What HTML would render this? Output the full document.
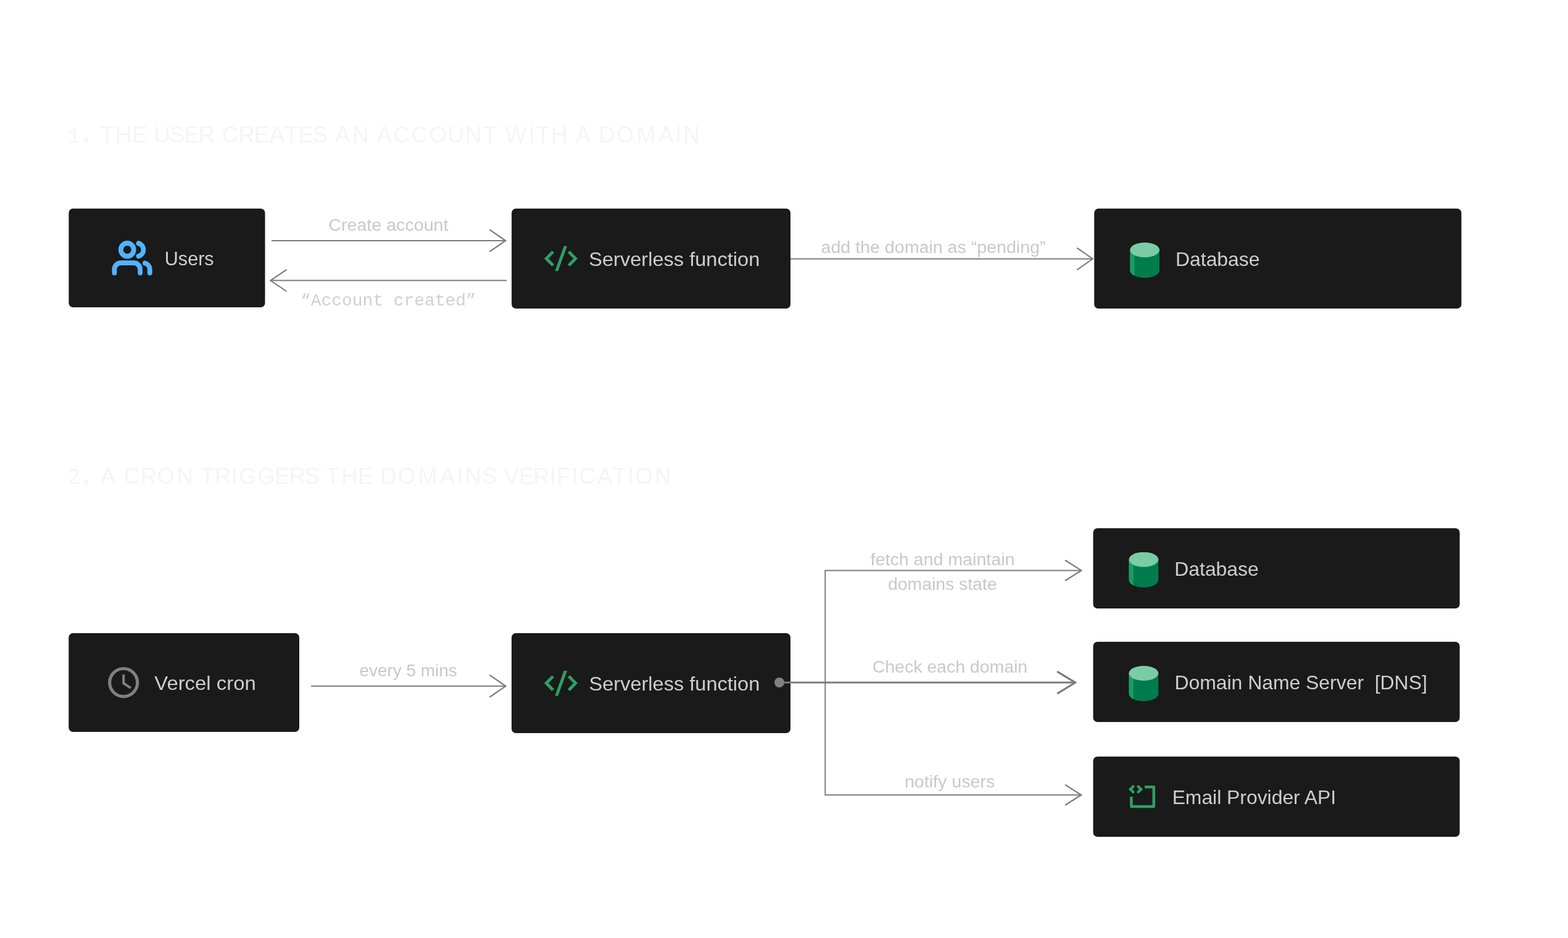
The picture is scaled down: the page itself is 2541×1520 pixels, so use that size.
<!DOCTYPE html>
<html lang="en">
<head>
<meta charset="utf-8">
<title>Domain verification flow</title>
<style>
  html, body { margin: 0; padding: 0; background: #ffffff; }
  html, body { width: 2541px; height: 1520px; }
  svg { display: block; will-change: transform; }
  text { white-space: pre; }
  .s { font-family: "Liberation Sans", sans-serif; }
  .h { font-family: "Liberation Sans", sans-serif; font-kerning: none; }
  .m { font-family: "Liberation Mono", monospace; }
</style>
</head>
<body>
<svg width="2541" height="1520" viewBox="0 0 2541 1520">
<rect x="0" y="0" width="2541" height="1520" fill="#ffffff"/>
<text class="h" x="109.18 132.04 145.10 162.32 186.70 213.91 236.70 249.16 274.99 298.46 321.51 345.90 359.48 386.56 411.51 436.83 461.22 483.81 506.79 530.10 542.83 570.70 596.60 610.63 637.28 666.23 695.50 725.46 753.80 783.12 806.70 818.42 856.44 868.67 893.05 918.50 932.73 959.00 970.23 998.80 1031.72 1066.88 1094.19 1107.55" y="231" fill="#f5f5f5" xml:space="preserve"><tspan class="m" font-size="35">1</tspan><tspan class="s" font-size="58">.</tspan><tspan class="s" font-size="36.8"> THE USER CREATES AN ACCOUNT WITH A DOMAIN</tspan></text>
<text class="h" x="109.92 132.04 145.10 163.03 189.50 200.68 227.71 254.55 286.20 311.90 325.37 347.96 374.79 387.04 417.09 445.41 468.41 493.34 517.00 528.52 553.00 580.06 602.90 616.28 645.00 677.82 712.88 740.24 753.30 781.09 804.70 816.38 841.01 863.96 890.69 902.29 926.04 938.53 967.83 992.07 1016.74 1029.50 1061.00" y="784" fill="#f5f5f5" xml:space="preserve"><tspan class="s" font-size="35">2</tspan><tspan class="s" font-size="58">.</tspan><tspan class="s" font-size="36.8"> A CRON TRIGGERS THE DOMAINS VERIFICATION</tspan></text>
<rect x="111.4" y="338" width="318.1" height="160" rx="7" ry="7" fill="#1a1a1a"/>
<g transform="translate(182.77 385.87) scale(2.61 2.68)" fill="none" stroke="#51b3ff" stroke-width="3" stroke-linecap="round" stroke-linejoin="round"><path d="M17 21v-2a4 4 0 0 0-4-4H5a4 4 0 0 0-4 4v2"/><circle cx="9" cy="7" r="4"/><path d="M23 21v-2a4 4 0 0 0-3-3.87"/><path d="M16 3.13a4 4 0 0 1 0 7.75"/></g>
<text class="s" x="266.75" y="430" font-size="32" fill="#cecece" textLength="79.9" lengthAdjust="spacingAndGlyphs">Users</text>
<path d="M440 390H819.31" fill="none" stroke="#7b7b7b" stroke-width="2"/>
<path d="M793.35 372.1L819.31 390L793.35 407.9" fill="none" stroke="#7b7b7b" stroke-width="2.2" stroke-linejoin="miter"/>
<text class="s" x="532.29" y="374" font-size="27" fill="#c9c9c9" textLength="194.2" lengthAdjust="spacingAndGlyphs">Create account</text>
<path d="M821 454.55H438.28" fill="none" stroke="#7b7b7b" stroke-width="2"/>
<path d="M464.50 436.85L438.28 454.55L464.50 472.25" fill="none" stroke="#7b7b7b" stroke-width="2.1" stroke-linejoin="miter"/>
<text class="m" x="486.9" y="495" font-size="27" fill="#d0d0d0" textLength="284.9" lengthAdjust="spacingAndGlyphs">“Account created”</text>
<rect x="829.1" y="338" width="451.9" height="162" rx="7" ry="7" fill="#1a1a1a"/>
<g fill="#2da067"><polygon points="881.92,418.90 894.45,406.17 898.09,409.40 888.80,418.90 898.09,428.40 894.45,431.83"/><polygon points="913.86,398.80 919.11,398.80 904.36,439.30 899.30,439.30"/><polygon points="936.08,418.90 923.55,406.17 919.91,409.40 929.20,418.90 919.91,428.40 923.55,431.83"/></g>
<text class="s" x="954.17" y="431" font-size="32" fill="#cecece" textLength="277.2" lengthAdjust="spacingAndGlyphs">Serverless function</text>
<path d="M1281 419.5H1770.77" fill="none" stroke="#7b7b7b" stroke-width="2"/>
<path d="M1745.30 401.6L1770.77 419.5L1745.30 437.4" fill="none" stroke="#7b7b7b" stroke-width="2.1" stroke-linejoin="miter"/>
<text class="s" x="1330.5" y="410" font-size="27" fill="#c9c9c9" textLength="364.0" lengthAdjust="spacingAndGlyphs">add the domain as “pending”</text>
<rect x="1773.2" y="338" width="595.1" height="162" rx="7" ry="7" fill="#1a1a1a"/>
<path d="M1831.30 405.00V438.20A23.85 12.0 0 0 0 1879.00 438.20V405.00Z" fill="#007c4c"/>
<path d="M1831.30 405.00V438.20A23.85 12.0 0 0 0 1838.50 446.79V413.59Z" fill="#1d9a66"/>
<ellipse cx="1855.15" cy="405.00" rx="23.85" ry="12.0" fill="#7bcca4"/>
<text class="s" x="1905.05" y="431" font-size="32" fill="#cecece" textLength="136.4" lengthAdjust="spacingAndGlyphs">Database</text>
<rect x="111.3" y="1026" width="373.7" height="160" rx="7" ry="7" fill="#1a1a1a"/>
<circle cx="200.2" cy="1106.1" r="22.55" fill="none" stroke="#808080" stroke-width="5.1"/>
<path d="M200.2 1093.1V1107.2L211.8 1114.8" fill="none" stroke="#808080" stroke-width="4" stroke-linejoin="miter"/>
<text class="s" x="250.28" y="1118" font-size="32" fill="#cecece" textLength="164.5" lengthAdjust="spacingAndGlyphs">Vercel cron</text>
<path d="M504 1111.85H819.46" fill="none" stroke="#7b7b7b" stroke-width="2"/>
<path d="M793.50 1093.95L819.46 1111.85L793.50 1129.75" fill="none" stroke="#7b7b7b" stroke-width="2.2" stroke-linejoin="miter"/>
<text class="s" x="582.42" y="1096" font-size="27" fill="#c9c9c9" textLength="158.4" lengthAdjust="spacingAndGlyphs">every 5 mins</text>
<rect x="829" y="1026" width="452" height="162" rx="7" ry="7" fill="#1a1a1a"/>
<g fill="#2da067"><polygon points="881.92,1107.00 894.45,1094.27 898.09,1097.50 888.80,1107.00 898.09,1116.50 894.45,1119.93"/><polygon points="913.86,1086.90 919.11,1086.90 904.36,1127.40 899.30,1127.40"/><polygon points="936.08,1107.00 923.55,1094.27 919.91,1097.50 929.20,1107.00 919.91,1116.50 923.55,1119.93"/></g>
<text class="s" x="954.49" y="1119" font-size="32" fill="#cecece" textLength="276.8" lengthAdjust="spacingAndGlyphs">Serverless function</text>
<path d="M1726.00 907.8L1752.24 924.4L1726.00 941.0" fill="none" stroke="#7b7b7b" stroke-width="2.2" stroke-linejoin="miter"/>
<path d="M1726.00 1271.6L1752.24 1288.2L1726.00 1304.8" fill="none" stroke="#7b7b7b" stroke-width="2.2" stroke-linejoin="miter"/>
<path d="M1752.24 924.4H1337.3V1288.2H1752.24" fill="none" stroke="#7b7b7b" stroke-width="2" stroke-linejoin="miter"/>
<path d="M1263 1106.1H1742.62" fill="none" stroke="#7b7b7b" stroke-width="3"/>
<path d="M1713.10 1088.1L1742.62 1106.1L1713.10 1124.1" fill="none" stroke="#7b7b7b" stroke-width="3" stroke-linejoin="miter"/>
<circle cx="1263" cy="1106" r="8" fill="#808080"/>
<text class="s" x="1410.57" y="916" font-size="27" fill="#c9c9c9" textLength="233.9" lengthAdjust="spacingAndGlyphs">fetch and maintain</text>
<text class="s" x="1439" y="956" font-size="27" fill="#c9c9c9" textLength="176.5" lengthAdjust="spacingAndGlyphs">domains state</text>
<text class="s" x="1413.71" y="1090" font-size="27" fill="#c9c9c9" textLength="251.5" lengthAdjust="spacingAndGlyphs">Check each domain</text>
<text class="s" x="1465.92" y="1276" font-size="27" fill="#c9c9c9" textLength="146.4" lengthAdjust="spacingAndGlyphs">notify users</text>
<rect x="1771.5" y="856" width="594.0" height="130" rx="7" ry="7" fill="#1a1a1a"/>
<path d="M1829.50 906.70V939.90A23.85 12.0 0 0 0 1877.20 939.90V906.70Z" fill="#007c4c"/>
<path d="M1829.50 906.70V939.90A23.85 12.0 0 0 0 1836.70 948.49V915.29Z" fill="#1d9a66"/>
<ellipse cx="1853.35" cy="906.70" rx="23.85" ry="12.0" fill="#7bcca4"/>
<text class="s" x="1903.33" y="933" font-size="32" fill="#cecece" textLength="136.3" lengthAdjust="spacingAndGlyphs">Database</text>
<rect x="1771.5" y="1040" width="594.0" height="130" rx="7" ry="7" fill="#1a1a1a"/>
<path d="M1829.50 1091.00V1124.20A23.85 12.0 0 0 0 1877.20 1124.20V1091.00Z" fill="#007c4c"/>
<path d="M1829.50 1091.00V1124.20A23.85 12.0 0 0 0 1836.70 1132.79V1099.59Z" fill="#1d9a66"/>
<ellipse cx="1853.35" cy="1091.00" rx="23.85" ry="12.0" fill="#7bcca4"/>
<text class="s" x="1903.38" y="1117" font-size="32" fill="#cecece" textLength="409.4" lengthAdjust="spacingAndGlyphs" xml:space="preserve">Domain Name Server  [DNS]</text>
<rect x="1771.5" y="1226" width="594.0" height="130" rx="7" ry="7" fill="#1a1a1a"/>
<path d="M1855.03 1275.19H1869.75V1306.88H1833.42V1290.93" fill="none" stroke="#2da067" stroke-width="4.5" stroke-linejoin="round"/>
<g fill="#2da067"><polygon points="1828.75,1278.92 1836.23,1271.73 1839.06,1274.35 1835.02,1278.92 1839.06,1283.45 1836.23,1286.28"/><polygon points="1852.20,1278.92 1844.72,1271.73 1841.89,1274.35 1845.93,1278.92 1841.89,1283.45 1844.72,1286.28"/></g>
<text class="s" x="1899.63" y="1303" font-size="32" fill="#cecece" textLength="265.5" lengthAdjust="spacingAndGlyphs">Email Provider API</text>
</svg>
</body>
</html>
